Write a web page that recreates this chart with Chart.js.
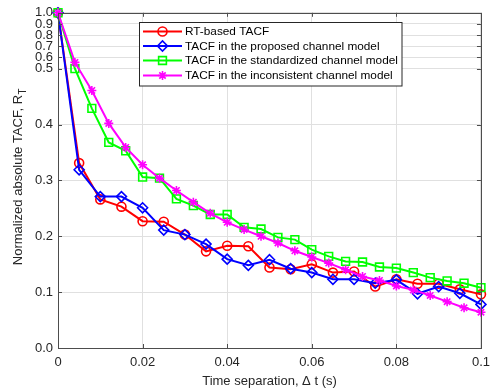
<!DOCTYPE html>
<html>
<head>
<meta charset="utf-8">
<script src="https://cdn.jsdelivr.net/npm/chart.js@4/dist/chart.umd.min.js"></script>
<style>
  html, body { margin: 0; padding: 0; background: #fff; }
  #wrap { width: 497px; height: 391px; }
</style>
</head>
<body>
<div id="wrap"><canvas id="tacfChart" width="497" height="391"></canvas></div>
<script>
'use strict';

// time lags (s)
var timeRT = [0, 0.005, 0.01, 0.015, 0.02, 0.025, 0.03, 0.035, 0.04, 0.045, 0.05,
  0.055, 0.06, 0.065, 0.07, 0.075, 0.08, 0.085, 0.09, 0.095, 0.1];
var timeModel = [0, 0.004, 0.008, 0.012, 0.016, 0.02, 0.024, 0.028, 0.032, 0.036, 0.04,
  0.044, 0.048, 0.052, 0.056, 0.06, 0.064, 0.068, 0.072, 0.076, 0.08, 0.084, 0.088,
  0.092, 0.096, 0.1];

// series values
var rtBased = [1.0, 0.331, 0.266, 0.253, 0.227, 0.226, 0.203, 0.173, 0.183, 0.182, 0.144,
  0.141, 0.150, 0.135, 0.137, 0.110, 0.123, 0.115, 0.115, 0.105, 0.096];
var proposed = [1.0, 0.319, 0.271, 0.271, 0.251, 0.211, 0.203, 0.186, 0.159, 0.148, 0.158,
  0.142, 0.135, 0.123, 0.123, 0.116, 0.122, 0.097, 0.110, 0.098, 0.078];
var standardized = [1.0, 0.500, 0.429, 0.368, 0.353, 0.306, 0.304, 0.267, 0.255, 0.239, 0.239,
  0.216, 0.213, 0.198, 0.194, 0.176, 0.164, 0.155, 0.154, 0.145, 0.143, 0.135, 0.126,
  0.120, 0.116, 0.108];
var inconsistent = [1.0, 0.556, 0.461, 0.402, 0.359, 0.328, 0.304, 0.282, 0.261, 0.241, 0.225,
  0.212, 0.200, 0.188, 0.174, 0.163, 0.152, 0.140, 0.128, 0.121, 0.111, 0.104, 0.094,
  0.083, 0.072, 0.064];

var seriesNames = ['RT-based TACF', 'TACF in the proposed channel model',
  'TACF in the standardized channel model', 'TACF in the inconsistent channel model'];

// tick labels
var xTickValues = [0, 0.02, 0.04, 0.06, 0.08, 0.1];
var xTickLabels = ['0', '0.02', '0.04', '0.06', '0.08', '0.1'];
var yTickValues = [0, 0.1, 0.2, 0.3, 0.4, 0.5, 0.6, 0.7, 0.8, 0.9, 1.0];
var yTickLabels = ['0.0', '0.1', '0.2', '0.3', '0.4', '0.5', '0.6', '0.7', '0.8', '0.9', '1.0'];

// the y axis is linear up to 0.5, then squeezed above it
function warp(v) {
  if (v <= 0.5) {
    return v;
  }
  return 0.5 + (v - 0.5) * 0.2;
}

function makePoints(xs, ys) {
  var pts = [];
  for (var i = 0; i < xs.length; i++) {
    pts.push({x: xs[i], y: warp(ys[i])});
  }
  return pts;
}

var FONT = '"Liberation Sans", Arial, sans-serif';
var TEXT_COLOR = '#262626';

var styles = [
  {color: '#ff0000', pointStyle: 'circle', radius: 4.5},
  {color: '#0000ff', pointStyle: 'rectRot', radius: 5},
  {color: '#00ff00', pointStyle: 'rect', radius: 5.5},
  {color: '#ff00ff', pointStyle: 'star', radius: 4.5}
];

function makeDataset(idx, xs, ys) {
  var s = styles[idx];
  return {
    label: seriesNames[idx],
    data: makePoints(xs, ys),
    borderColor: s.color,
    backgroundColor: 'rgba(0,0,0,0)',
    borderWidth: 2,
    pointStyle: s.pointStyle,
    pointRadius: s.radius,
    pointBorderWidth: 1.6,
    pointBorderColor: s.color,
    pointBackgroundColor: 'rgba(0,0,0,0)',
    tension: 0,
    clip: 10,
    order: 4 - idx
  };
}

// box, inward ticks, legend and axis titles
var decorations = {
  id: 'decorations',
  afterDraw: function(chart) {
    var ctx = chart.ctx;
    var area = chart.chartArea;
    var xs = chart.scales.x;
    var ys = chart.scales.y;
    ctx.save();

    ctx.strokeStyle = '#4d4d4d';
    ctx.lineWidth = 1;
    ctx.strokeRect(Math.round(area.left) + 0.5, Math.round(area.top) + 0.5,
      Math.round(area.right - area.left), Math.round(area.bottom - area.top));

    var tl = 4;
    ctx.beginPath();
    xTickValues.forEach(function(v) {
      var px = Math.round(xs.getPixelForValue(v)) + 0.5;
      ctx.moveTo(px, area.bottom); ctx.lineTo(px, area.bottom - tl);
      ctx.moveTo(px, area.top); ctx.lineTo(px, area.top + tl);
    });
    yTickValues.forEach(function(v) {
      var py = Math.round(ys.getPixelForValue(warp(v))) + 0.5;
      ctx.moveTo(area.left, py); ctx.lineTo(area.left + tl, py);
      ctx.moveTo(area.right, py); ctx.lineTo(area.right - tl, py);
    });
    ctx.stroke();

    // legend
    var lx = 139.5, ly = 22.5, lw = 262.5, lh = 63.5;
    ctx.fillStyle = '#ffffff';
    ctx.fillRect(lx, ly, lw, lh);
    ctx.strokeStyle = '#262626';
    ctx.lineWidth = 1;
    ctx.strokeRect(lx, ly, lw, lh);
    var rows = [31.5, 46, 60.5, 75.5];
    ctx.font = '11.8px ' + FONT;
    ctx.textBaseline = 'middle';
    ctx.textAlign = 'left';
    for (var i = 0; i < seriesNames.length; i++) {
      var s = styles[i];
      ctx.strokeStyle = s.color;
      ctx.fillStyle = 'rgba(0,0,0,0)';
      ctx.lineWidth = 2;
      ctx.beginPath();
      ctx.moveTo(143, rows[i]);
      ctx.lineTo(182, rows[i]);
      ctx.stroke();
      ctx.lineWidth = 1.6;
      Chart.helpers.drawPoint(ctx, {pointStyle: s.pointStyle, radius: s.radius, rotation: 0, borderWidth: 1.6}, 162.5, rows[i]);
      ctx.fillStyle = '#000000';
      ctx.fillText(seriesNames[i], 185, rows[i] + 0.5);
    }

    // x title
    ctx.fillStyle = TEXT_COLOR;
    ctx.font = '13px ' + FONT;
    ctx.textAlign = 'center';
    ctx.textBaseline = 'middle';
    ctx.fillText('Time separation, \u0394 t (s)', (area.left + area.right) / 2, 381);

    // y title with subscript
    var mainText = 'Normalized absolute TACF, R';
    ctx.font = '13px ' + FONT;
    var w1 = ctx.measureText(mainText).width;
    ctx.font = '10px ' + FONT;
    var w2 = ctx.measureText('T').width;
    ctx.translate(18, 177);
    ctx.rotate(-Math.PI / 2);
    ctx.textAlign = 'left';
    var start = -(w1 + w2) / 2;
    ctx.font = '13px ' + FONT;
    ctx.fillText(mainText, start, 0);
    ctx.font = '10px ' + FONT;
    ctx.fillText('T', start + w1 + 0.5, 5);
    ctx.restore();
  }
};

var ctx = document.getElementById('tacfChart').getContext('2d');
var tacfChart = new Chart(ctx, { //eslint-disable-line
  type: 'line',
  data: {
    datasets: [
      makeDataset(0, timeRT, rtBased),
      makeDataset(1, timeRT, proposed),
      makeDataset(2, timeModel, standardized),
      makeDataset(3, timeModel, inconsistent)
    ]
  },
  options: {
    responsive: false,
    animation: false,
    layout: {
      autoPadding: false,
      padding: {top: 12, right: 13, left: 0, bottom: 0}
    },
    plugins: {
      legend: {display: false},
      tooltip: {enabled: false}
    },
    scales: {
      x: {
        type: 'linear',
        min: 0,
        max: 0.1,
        afterFit: function(scale) { scale.height = 43; },
        afterBuildTicks: function(scale) {
          scale.ticks = xTickValues.map(function(v) { return {value: v}; });
        },
        ticks: {
          padding: 7,
          maxRotation: 0,
          autoSkip: false,
          color: TEXT_COLOR,
          font: {family: FONT, size: 13},
          callback: function(value, index) { return xTickLabels[index]; }
        },
        grid: {color: '#e0e0e0', drawTicks: false},
        border: {display: false}
      },
      y: {
        type: 'linear',
        min: 0,
        max: warp(1.0),
        afterFit: function(scale) { scale.width = 58; },
        afterBuildTicks: function(scale) {
          scale.ticks = yTickValues.map(function(v) { return {value: warp(v)}; });
        },
        ticks: {
          padding: 5,
          autoSkip: false,
          color: TEXT_COLOR,
          font: {family: FONT, size: 13},
          callback: function(value, index) { return yTickLabels[index]; }
        },
        grid: {color: '#e0e0e0', drawTicks: false},
        border: {display: false}
      }
    }
  },
  plugins: [decorations]
});
</script>
</body>
</html>
